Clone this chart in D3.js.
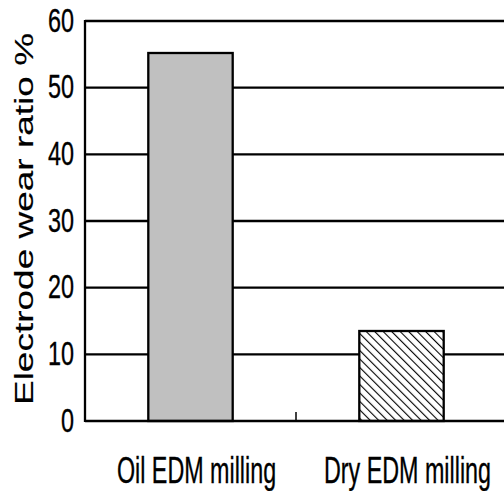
<!DOCTYPE html>
<html>
<head>
<meta charset="utf-8">
<script src="https://cdn.jsdelivr.net/npm/d3@7"></script>
<style>
  html, body { margin: 0; padding: 0; background: #fff; }
  svg { display: block; }
  text { font-family: "Liberation Sans", Arial, sans-serif; fill: #000; stroke: #000; stroke-width: 0.35; }
</style>
</head>
<body>
<svg id="chart" width="504" height="491"></svg>
<script>
const categories = ["Oil EDM milling", "Dry EDM milling"];
const wearRatio = [55.2, 13.5];
const yTicks = [0, 10, 20, 30, 40, 50, 60];
const yLabel = "Electrode wear ratio %";

(function () {
const svg = d3.select("#chart");
const pLeft = 85, pRight = 507, pTop = 21, pBottom = 421;

const y = d3.scaleLinear().domain([0, 60]).range([pBottom, pTop]);
const xOuter = d3.scaleBand().domain(categories).range([pLeft, pRight]).padding(0);
const x = d3.scaleBand().domain(categories).range([pLeft, pRight]).paddingInner(0.6).paddingOuter(0.3);

const defs = svg.append("defs");
const pat = defs.append("pattern")
  .attr("id", "hatch")
  .attr("patternUnits", "userSpaceOnUse")
  .attr("width", 6).attr("height", 6)
  .attr("patternTransform", "rotate(-45)");
pat.append("rect").attr("width", 6).attr("height", 6).attr("fill", "#fff");
pat.append("line").attr("x1", 0).attr("y1", 0).attr("x2", 0).attr("y2", 6)
  .attr("stroke", "#000").attr("stroke-width", 2.2);

// gridlines (drawn under bars)
svg.append("g").selectAll("line").data(yTicks.filter(t => t > 0))
  .join("line")
  .attr("x1", pLeft).attr("x2", pRight)
  .attr("y1", d => y(d)).attr("y2", d => y(d))
  .attr("stroke", "#000").attr("stroke-width", 2.3);

// bars
svg.append("g").selectAll("rect").data(categories)
  .join("rect")
  .attr("x", d => x(d))
  .attr("width", x.bandwidth())
  .attr("y", (d, i) => y(wearRatio[i]))
  .attr("height", (d, i) => y(0) - y(wearRatio[i]))
  .attr("fill", (d, i) => i === 0 ? "#c0c0c0" : "url(#hatch)")
  .attr("stroke", "#000").attr("stroke-width", 2.3);

// axes frame
svg.append("line").attr("x1", pLeft).attr("x2", pLeft).attr("y1", pTop - 1).attr("y2", pBottom + 1)
  .attr("stroke", "#000").attr("stroke-width", 2.3);
svg.append("line").attr("x1", pLeft).attr("x2", pRight).attr("y1", pBottom).attr("y2", pBottom)
  .attr("stroke", "#000").attr("stroke-width", 2.3);

// category separator tick
svg.append("g").selectAll("line").data(categories.slice(1))
  .join("line")
  .attr("x1", d => xOuter(d)).attr("x2", d => xOuter(d))
  .attr("y1", pBottom).attr("y2", pBottom - 9)
  .attr("stroke", "#000").attr("stroke-width", 1.5);

// y tick labels
svg.append("g").selectAll("text").data(yTicks)
  .join("text")
  .attr("transform", d => `translate(74,${y(d) + 2}) scale(0.71,1)`)
  .attr("text-anchor", "end")
  .attr("dominant-baseline", "middle")
  .attr("font-size", 33)
  .text(d => d);

// x category labels
svg.append("g").selectAll("text").data(categories)
  .join("text")
  .attr("transform", d => `translate(${xOuter(d) + xOuter.bandwidth() / 2 + 6},483) scale(0.63,1)`)
  .attr("text-anchor", "middle")
  .attr("font-size", 37)
  .text(d => d);

// y axis title
svg.append("text")
  .attr("transform", `translate(33,${(pTop + pBottom) / 2 - 2}) scale(0.7,1) rotate(-90)`)
  .attr("text-anchor", "middle")
  .attr("font-size", 37)
  .style("stroke-width", 0.2)
  .text(yLabel);
})();
</script>
</body>
</html>
